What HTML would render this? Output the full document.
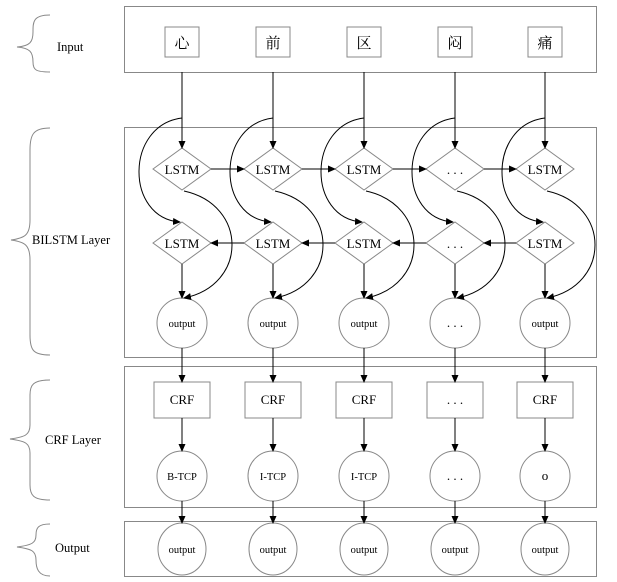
<!DOCTYPE html>
<html><head><meta charset="utf-8"><style>
html,body{margin:0;padding:0;background:#fff;}
svg{display:block;}
text{font-family:"Liberation Serif","Noto Serif CJK SC",serif;fill:#000;}
</style></head><body>
<svg width="617" height="582" viewBox="0 0 617 582" xmlns="http://www.w3.org/2000/svg">
<defs>
<marker id="a" markerWidth="8" markerHeight="8" refX="7" refY="4" orient="auto" markerUnits="userSpaceOnUse">
<path d="M0,0.5 L8,4 L0,7.5 z" fill="#000"/>
</marker>
</defs>
<g fill="none" stroke="#888" stroke-width="1">
<rect x="124.5" y="6.5" width="472" height="66"/>
<rect x="124.5" y="127.5" width="472" height="230"/>
<rect x="124.5" y="366.5" width="472" height="141"/>
<rect x="124.5" y="521.5" width="472" height="55"/>
<path d="M50,15 C33,15 33,22 33,32 C33,42 30,46 17,47 C30,48 33,52 33,62 C33,70 36,72 50,72"/>
<path d="M50,128 C33,128 30,135 30,150 L30,220 C30,235 25,238 11,240 C25,242 30,245 30,260 L30,335 C30,350 33,355 50,355"/>
<path d="M50,380 C33,380 30,385 30,395 L30,425 C30,435 25,437 10,439 C25,441 30,443 30,453 L30,485 C30,495 33,500 50,500"/>
<path d="M50,524 C38,524 36,528 36,535 C36,543 32,545 17,547 C32,549 36,551 36,560 C36,568 38,576 50,576"/>
</g>
<g font-size="12.5">
<text x="57" y="51">Input</text>
<text x="32" y="244">BILSTM Layer</text>
<text x="45" y="444">CRF Layer</text>
<text x="55" y="552">Output</text>
</g>

<g fill="none" stroke="#888" stroke-width="1">
<rect x="165" y="27" width="34" height="30"/><rect x="256" y="27" width="34" height="30"/><rect x="347" y="27" width="34" height="30"/><rect x="438" y="27" width="34" height="30"/><rect x="528" y="27" width="34" height="30"/>
<polygon points="153,169 182,148 211,169 182,190"/><polygon points="244,169 273,148 302,169 273,190"/><polygon points="335,169 364,148 393,169 364,190"/><polygon points="426,169 455,148 484,169 455,190"/><polygon points="516,169 545,148 574,169 545,190"/>
<polygon points="153,243 182,222 211,243 182,264"/><polygon points="244,243 273,222 302,243 273,264"/><polygon points="335,243 364,222 393,243 364,264"/><polygon points="426,243 455,222 484,243 455,264"/><polygon points="516,243 545,222 574,243 545,264"/>
<circle cx="182" cy="323" r="25"/><circle cx="273" cy="323" r="25"/><circle cx="364" cy="323" r="25"/><circle cx="455" cy="323" r="25"/><circle cx="545" cy="323" r="25"/>
<rect x="154" y="382" width="56" height="36"/><rect x="245" y="382" width="56" height="36"/><rect x="336" y="382" width="56" height="36"/><rect x="427" y="382" width="56" height="36"/><rect x="517" y="382" width="56" height="36"/>
<ellipse cx="182" cy="476" rx="25" ry="25"/><ellipse cx="273" cy="476" rx="25" ry="25"/><ellipse cx="364" cy="476" rx="25" ry="25"/><ellipse cx="455" cy="476" rx="25" ry="25"/><ellipse cx="545" cy="476" rx="25" ry="25"/>
<ellipse cx="182" cy="549" rx="24" ry="26"/><ellipse cx="273" cy="549" rx="24" ry="26"/><ellipse cx="364" cy="549" rx="24" ry="26"/><ellipse cx="455" cy="549" rx="24" ry="26"/><ellipse cx="545" cy="549" rx="24" ry="26"/>
</g>

<g fill="none" stroke="#000" stroke-width="1" marker-end="url(#a)">
<path d="M182,72 V148"/><path d="M273,72 V148"/><path d="M364,72 V148"/><path d="M455,72 V148"/><path d="M545,72 V148"/>
<path d="M182,264 V298"/><path d="M273,264 V298"/><path d="M364,264 V298"/><path d="M455,264 V298"/><path d="M545,264 V298"/>
<path d="M182,348 V382"/><path d="M273,348 V382"/><path d="M364,348 V382"/><path d="M455,348 V382"/><path d="M545,348 V382"/>
<path d="M182,418 V451"/><path d="M273,418 V451"/><path d="M364,418 V451"/><path d="M455,418 V451"/><path d="M545,418 V451"/>
<path d="M182,501 V523"/><path d="M273,501 V523"/><path d="M364,501 V523"/><path d="M455,501 V523"/><path d="M545,501 V523"/>
<path d="M211,169 H244"/><path d="M302,169 H335"/><path d="M393,169 H426"/><path d="M484,169 H516"/>
<path d="M244,243 H211"/><path d="M335,243 H302"/><path d="M426,243 H393"/><path d="M516,243 H484"/>
<path d="M182,118 C125,125 125,218 180,222"/><path d="M273,118 C216,125 216,218 271,222"/><path d="M364,118 C307,125 307,218 362,222"/><path d="M455,118 C398,125 398,218 453,222"/><path d="M545,118 C488,125 488,218 543,222"/>
<path d="M184,191 C248,205 248,285 184,298"/><path d="M275,191 C339,205 339,285 275,298"/><path d="M366,191 C430,205 430,285 366,298"/><path d="M457,191 C521,205 521,285 457,298"/><path d="M547,191 C611,205 611,285 547,298"/>
</g>

<g text-anchor="middle">
<g font-size="15"><text x="182" y="48">心</text><text x="273" y="48">前</text><text x="364" y="48">区</text><text x="455" y="48">闷</text><text x="545" y="48">痛</text></g>
<g font-size="13"><text x="182" y="174">LSTM</text><text x="273" y="174">LSTM</text><text x="364" y="174">LSTM</text><text x="455" y="174">. . .</text><text x="545" y="174">LSTM</text>
<text x="182" y="248">LSTM</text><text x="273" y="248">LSTM</text><text x="364" y="248">LSTM</text><text x="455" y="248">. . .</text><text x="545" y="248">LSTM</text>
<text x="182" y="404">CRF</text><text x="273" y="404">CRF</text><text x="364" y="404">CRF</text><text x="455" y="404">. . .</text><text x="545" y="404">CRF</text>
<text x="455" y="327">. . .</text><text x="455" y="480">. . .</text><text x="545" y="480">o</text></g>
<g font-size="10.5"><text x="182" y="327">output</text><text x="273" y="327">output</text><text x="364" y="327">output</text><text x="545" y="327">output</text>
<text x="182" y="480">B-TCP</text><text x="273" y="480">I-TCP</text><text x="364" y="480">I-TCP</text>
<text x="182" y="553">output</text><text x="273" y="553">output</text><text x="364" y="553">output</text><text x="455" y="553">output</text><text x="545" y="553">output</text></g>
</g>
</svg>
</body></html>
